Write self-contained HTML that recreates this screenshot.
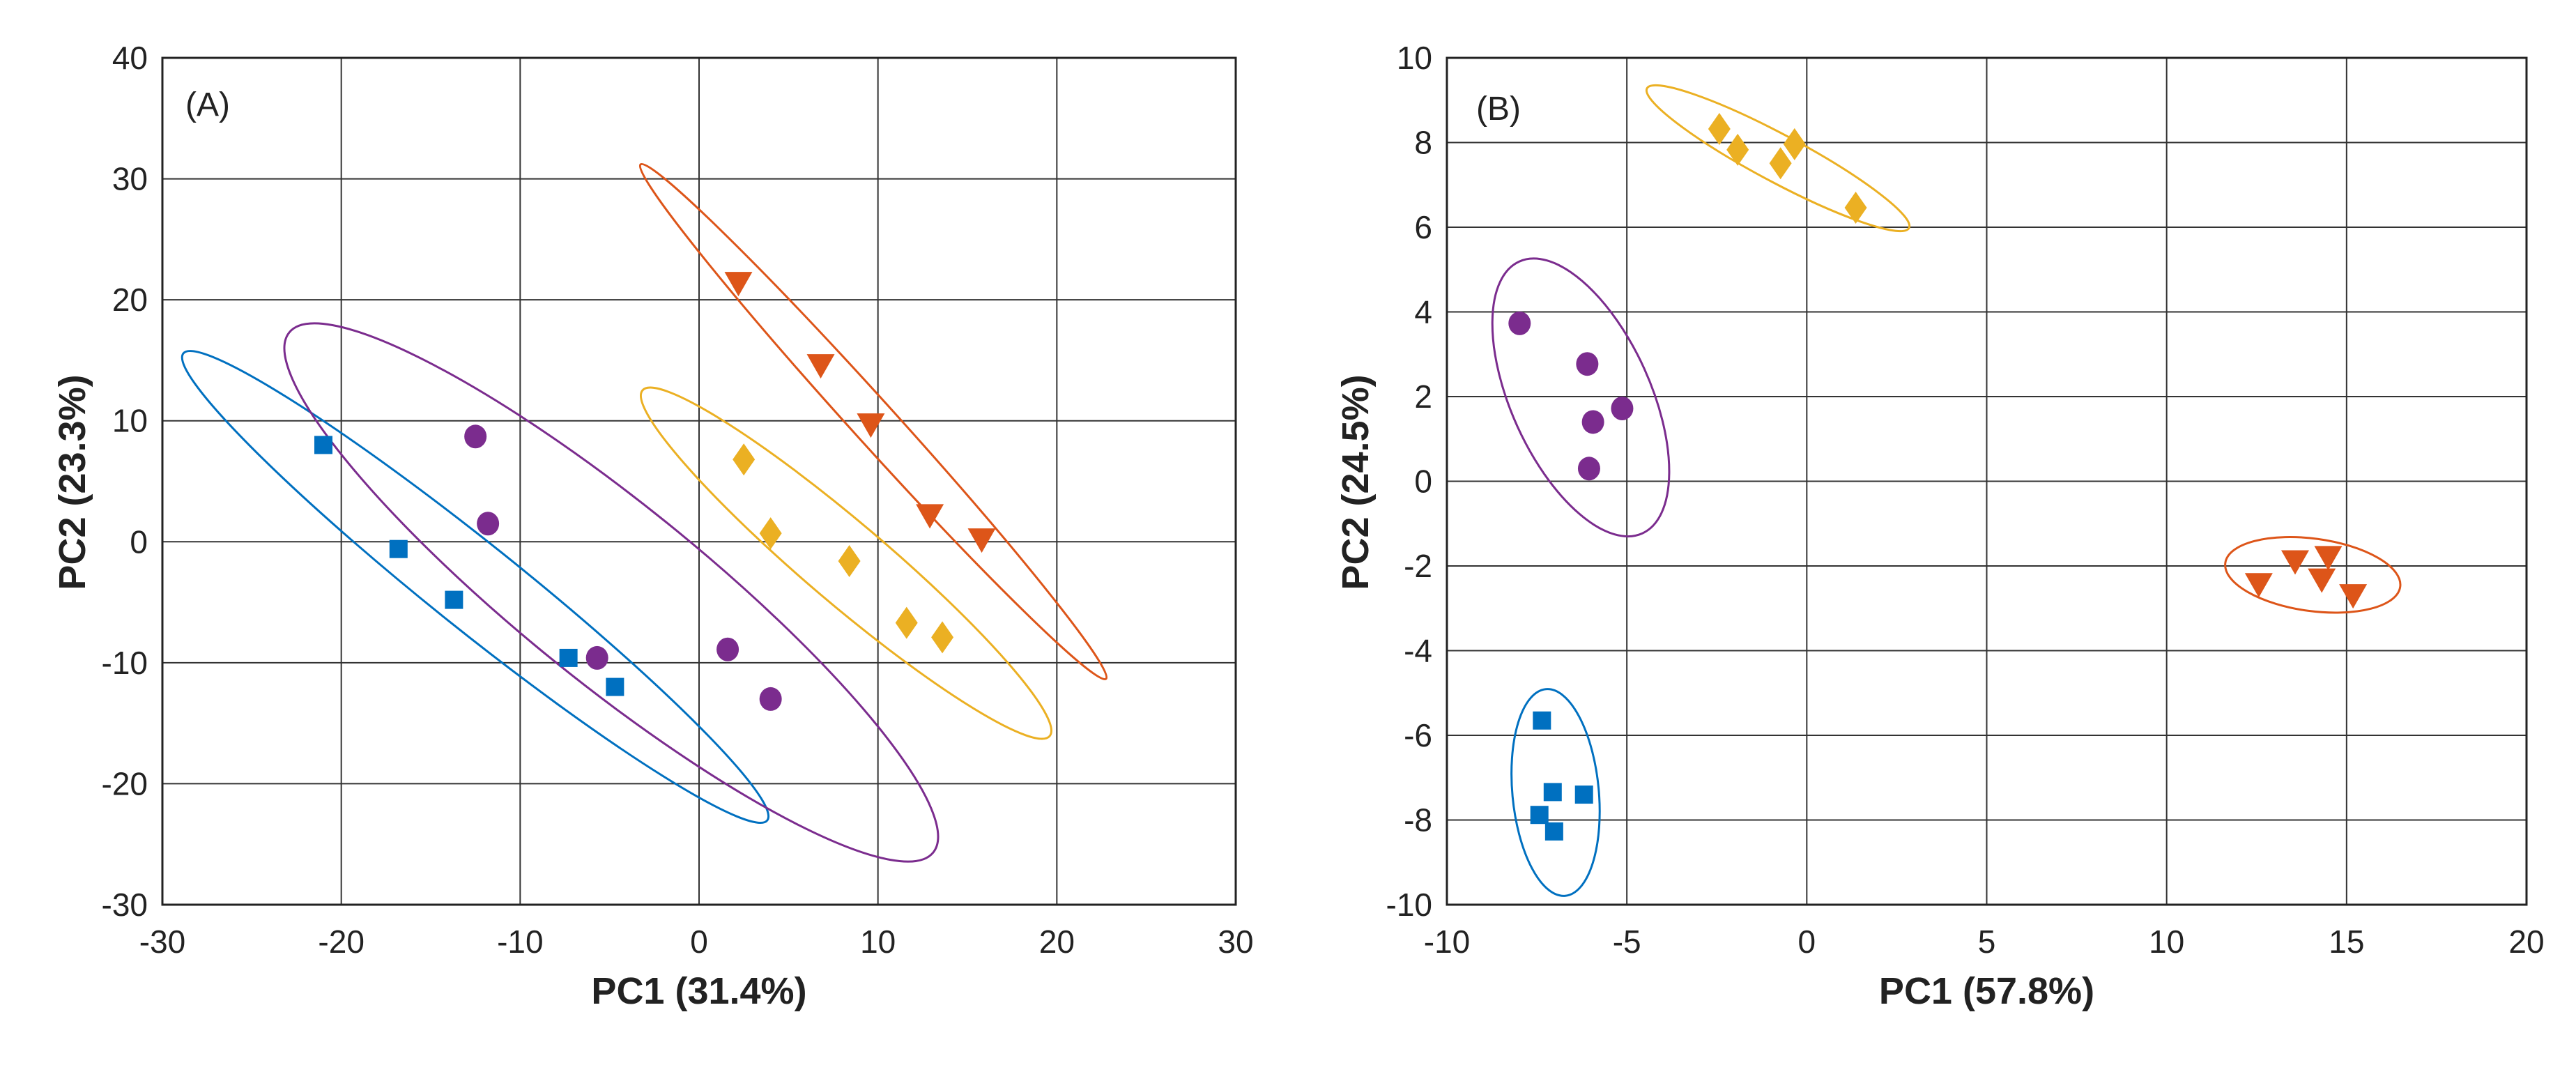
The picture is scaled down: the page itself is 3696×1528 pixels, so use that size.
<!DOCTYPE html>
<html><head><meta charset="utf-8">
<style>
html,body{margin:0;padding:0;background:#fff;}
svg{display:block;font-family:"Liberation Sans",Arial,sans-serif;}
</style></head>
<body>
<svg id="chart" width="3696" height="1528" viewBox="0 0 3696 1528" xmlns="http://www.w3.org/2000/svg">
<rect x="0" y="0" width="3696" height="1528" fill="#fff"/>
</svg>
<script>
// ---- Panel A data ----
const aSquaresX = [-21, -16.8, -13.7, -7.3, -4.7];
const aSquaresY = [8, -0.6, -4.8, -9.6, -12];
const aCirclesX = [-12.5, -11.8, -5.7, 1.6, 4];
const aCirclesY = [8.7, 1.5, -9.6, -8.9, -13];
const aDiamondsX = [2.5, 4, 8.4, 11.6, 13.6];
const aDiamondsY = [6.8, 0.7, -1.6, -6.7, -7.9];
const aTrianglesX = [2.2, 6.8, 9.6, 12.9, 15.8];
const aTrianglesY = [21.5, 14.7, 9.8, 2.3, 0.3];
const aXTicks = [-30, -20, -10, 0, 10, 20, 30];
const aYTicks = [-30, -20, -10, 0, 10, 20, 30, 40];
// ellipses: center and major-axis tip in data units, minor semi-axis in px
const aEllCX = [-12.51, -4.91, 8.22, 9.74];
const aEllCY = [-3.73, -4.19, -1.77, 9.93];
const aEllTX = [-28.83, -22.91, -3.16, -3.27];
const aEllTY = [15.57, 17.30, 12.52, 31.19];
const aEllMinor = [62, 128, 58, 31];

// ---- Panel B data ----
const bSquaresX = [-7.36, -7.06, -6.19, -7.43, -7.02];
const bSquaresY = [-5.65, -7.34, -7.40, -7.88, -8.27];
const bCirclesX = [-7.98, -6.1, -5.94, -5.13, -6.05];
const bCirclesY = [3.73, 2.77, 1.40, 1.72, 0.30];
const bDiamondsX = [-2.43, -1.92, -0.73, -0.34, 1.36];
const bDiamondsY = [8.32, 7.83, 7.51, 7.96, 6.46];
const bTrianglesX = [12.56, 13.57, 14.49, 14.31, 15.18];
const bTrianglesY = [-2.4, -1.86, -1.76, -2.29, -2.66];
const bXTicks = [-10, -5, 0, 5, 10, 15, 20];
const bYTicks = [-10, -8, -6, -4, -2, 0, 2, 4, 6, 8, 10];
const bEllCX = [-6.98, -6.28, -0.80, 14.06];
const bEllCY = [-7.35, 1.98, 7.63, -2.21];
const bEllTX = [-7.25, -7.99, -4.44, 11.63];
const bEllTY = [-4.91, 5.19, 9.28, -1.93];
const bEllMinor = [62, 100, 34, 52];

const COL = {blue:'#0070C0', purple:'#7B2C8E', yellow:'#EBB023', red:'#DD5519'};
const NS = 'http://www.w3.org/2000/svg';
const svg = document.getElementById('chart');

function mk(tag, attrs, parent){
  const e = document.createElementNS(NS, tag);
  for (const k in attrs) e.setAttribute(k, attrs[k]);
  (parent||svg).appendChild(e);
  return e;
}

function panel(p){
  const g = mk('g', {});
  
  
  const sx = v => p.x0 + (v - p.xmin) / (p.xmax - p.xmin) * (p.x1 - p.x0);
  const sy = v => p.y1 - (v - p.ymin) / (p.ymax - p.ymin) * (p.y1 - p.y0);
  // grid
  p.xt.forEach(t => {
    const l = mk('line', {x1:sx(t), x2:sx(t), y1:p.y0, y2:p.y1, stroke:'#333', 'stroke-width':2}, g);
    
    
    const tx = mk('text', {x:sx(t), y:1367, 'font-size':46, 'text-anchor':'middle', fill:'#222'}, g);
    tx.textContent = t;
    
    
  });
  p.yt.forEach(t => {
    const l = mk('line', {x1:p.x0, x2:p.x1, y1:sy(t), y2:sy(t), stroke:'#333', 'stroke-width':2}, g);
    
    
    const tx = mk('text', {x:p.ylx, y:sy(t)+16, 'font-size':46, 'text-anchor':'end', fill:'#222'}, g);
    tx.textContent = t;
    
    
  });
  const fr = mk('rect', {x:p.x0, y:p.y0, width:p.x1-p.x0, height:p.y1-p.y0, fill:'none', stroke:'#222', 'stroke-width':3}, g);
  
  
  // ellipses
  const ecol = [COL.blue, COL.purple, COL.yellow, COL.red];
  const enames = ['blue-group-ellipse','purple-group-ellipse','yellow-group-ellipse','red-group-ellipse'];
  p.ecx.forEach((cx, i) => {
    const X = sx(cx), Y = sy(p.ecy[i]);
    const TX = sx(p.etx[i]), TY = sy(p.ety[i]);
    const a = Math.hypot(TX - X, TY - Y);
    const ang = Math.atan2(TY - Y, TX - X) * 180 / Math.PI;
    const e = mk('ellipse', {cx:X, cy:Y, rx:a, ry:p.emin[i], fill:'none', stroke:ecol[i], 'stroke-width':3, transform:`rotate(${ang} ${X} ${Y})`}, g);
    
    
  });
  // markers
  p.sqx.forEach((v, i) => {
    const r = mk('rect', {x:sx(v)-13, y:sy(p.sqy[i])-13, width:26, height:26, fill:COL.blue}, g);
    
    
  });
  p.cix.forEach((v, i) => {
    const c = mk('ellipse', {cx:sx(v), cy:sy(p.ciy[i]), rx:16, ry:17, fill:COL.purple}, g);
    
    
  });
  p.dix.forEach((v, i) => {
    const X = sx(v), Y = sy(p.diy[i]);
    const d = mk('polygon', {points:`${X},${Y-23} ${X+16},${Y} ${X},${Y+23} ${X-16},${Y}`, fill:COL.yellow}, g);
    
    
  });
  p.trx.forEach((v, i) => {
    const X = sx(v), Y = sy(p.try_[i]);
    const t = mk('polygon', {points:`${X-20},${Y-14} ${X+20},${Y-14} ${X},${Y+21}`, fill:COL.red}, g);
    
    
  });
  // labels
  const lab = mk('text', {x:p.lx, y:p.ly, 'font-size':48, fill:'#222'}, g);
  lab.textContent = p.label;
  
  
  const xt = mk('text', {x:(p.x0+p.x1)/2, y:1440, 'font-size':54, 'font-weight':'bold', 'text-anchor':'middle', fill:'#222'}, g);
  xt.textContent = p.xtitle;
  
  
  const yt = mk('text', {x:0, y:0, 'font-size':54, 'font-weight':'bold', 'text-anchor':'middle', fill:'#222', transform:`translate(${p.ytx},692) rotate(-90)`}, g);
  yt.textContent = p.ytitle;
  
  
}

panel({name:'panel-a', x0:233, x1:1773, y0:83, y1:1298, xmin:-30, xmax:30, ymin:-30, ymax:40,
  xt:aXTicks, yt:aYTicks, ylx:212,
  sqx:aSquaresX, sqy:aSquaresY, cix:aCirclesX, ciy:aCirclesY, dix:aDiamondsX, diy:aDiamondsY, trx:aTrianglesX, try_:aTrianglesY,
  ecx:aEllCX, ecy:aEllCY, etx:aEllTX, ety:aEllTY, emin:aEllMinor,
  label:'(A)', lx:266, ly:166, xtitle:'PC1 (31.4%)', ytitle:'PC2 (23.3%)', ytx:122});

panel({name:'panel-b', x0:2076, x1:3625, y0:83, y1:1298, xmin:-10, xmax:20, ymin:-10, ymax:10,
  xt:bXTicks, yt:bYTicks, ylx:2055,
  sqx:bSquaresX, sqy:bSquaresY, cix:bCirclesX, ciy:bCirclesY, dix:bDiamondsX, diy:bDiamondsY, trx:bTrianglesX, try_:bTrianglesY,
  ecx:bEllCX, ecy:bEllCY, etx:bEllTX, ety:bEllTY, emin:bEllMinor,
  label:'(B)', lx:2118, ly:172, xtitle:'PC1 (57.8%)', ytitle:'PC2 (24.5%)', ytx:1963});
</script>
</body></html>
